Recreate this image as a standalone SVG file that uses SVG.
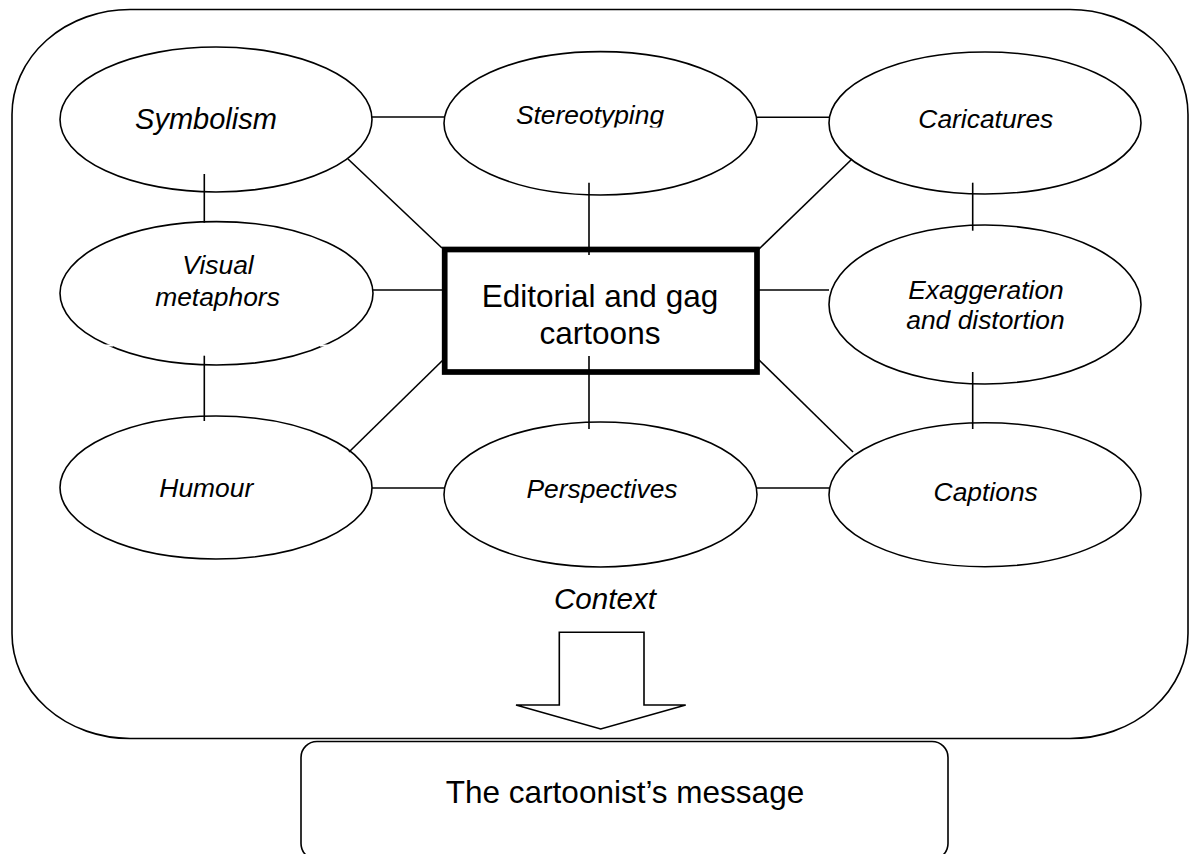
<svg xmlns="http://www.w3.org/2000/svg" width="1189" height="854" viewBox="0 0 1189 854">
<style>
.n{fill:#fff;stroke:#000;stroke-width:1.6}
.c line{stroke:#000;stroke-width:1.6}
.t{font-family:"Liberation Sans",Arial,sans-serif;font-style:italic;font-size:26.4px;text-anchor:middle;fill:#000}
.r{font-family:"Liberation Sans",Arial,sans-serif;font-size:31.5px;text-anchor:middle;fill:#000}
</style>
<defs>
<clipPath id="clipS"><rect x="440" y="60" width="320" height="67.5"/></clipPath>
</defs>
<rect width="1189" height="854" fill="#fff"/>
<g id="context">
<rect x="12" y="9.5" width="1176" height="729" rx="118" ry="105" fill="#fff" stroke="#000" stroke-width="1.6"/>
<text class="t" x="605" y="609.3" style="font-size:29.6px">Context</text>
<polygon points="559.3,632.3 644,632.3 644,705 685.7,705 600.7,729 516,705 559.3,705" fill="#fff" stroke="#000" stroke-width="1.6"/>
</g>
<g id="message">
<rect x="301" y="741.5" width="647" height="118" rx="16" ry="16" fill="#fff" stroke="#000" stroke-width="1.6"/>
<text class="r" x="625" y="803.3">The cartoonist’s message</text>
</g>
<g id="symbolism">
<ellipse class="n" cx="216" cy="119.5" rx="156" ry="72.5"/>
<text class="t" x="206" y="129" style="font-size:29px">Symbolism</text>
</g>
<g id="visual">
<ellipse class="n" cx="216.5" cy="293.3" rx="156.5" ry="71.7"/>
<line x1="104" y1="345.5" x2="113" y2="345.5" stroke="#fff" stroke-width="2"/>
<line x1="320" y1="345.5" x2="329" y2="345.5" stroke="#fff" stroke-width="2"/>
<text class="t" x="218" y="274">Visual</text>
<text class="t" x="217.5" y="306">metaphors</text>
</g>
<g id="humour">
<ellipse class="n" cx="216" cy="487.5" rx="156" ry="71.5"/>
<text class="t" x="206.3" y="497">Humour</text>
</g>
<g id="stereotyping">
<ellipse class="n" cx="600.5" cy="123.3" rx="156.5" ry="71.7"/>
<text class="t" x="590" y="124.3" clip-path="url(#clipS)">Stereotyping</text>
</g>
<g id="perspectives">
<ellipse class="n" cx="600.5" cy="494.5" rx="156.5" ry="72.5"/>
<text class="t" x="602" y="498">Perspectives</text>
</g>
<g id="caricatures">
<ellipse class="n" cx="985" cy="123" rx="156" ry="71"/>
<text class="t" x="985.8" y="128">Caricatures</text>
</g>
<g id="exaggeration">
<ellipse class="n" cx="985" cy="304.5" rx="156" ry="79.5"/>
<text class="t" x="986" y="299">Exaggeration</text>
<text class="t" x="985.5" y="329">and distortion</text>
</g>
<g id="captions">
<ellipse class="n" cx="985" cy="494.7" rx="156" ry="72"/>
<text class="t" x="985.7" y="501">Captions</text>
</g>
<g id="cartoons">
<rect x="444.7" y="249.5" width="312.3" height="122.5" fill="#fff" stroke="#000" stroke-width="5.7"/>
<text class="r" x="600" y="307">Editorial and gag</text>
<text class="r" x="600" y="344">cartoons</text>
</g>
<g id="connectors" class="c">
<line x1="372" y1="117" x2="444" y2="117"/>
<line x1="757" y1="117.3" x2="829" y2="117.3"/>
<line x1="204.3" y1="174" x2="204.3" y2="222.7"/>
<line x1="204.3" y1="355.7" x2="204.3" y2="421"/>
<line x1="972.7" y1="182.7" x2="972.7" y2="230.7"/>
<line x1="972.7" y1="372" x2="972.7" y2="429"/>
<line x1="348" y1="159" x2="442" y2="248"/>
<line x1="589" y1="182.7" x2="589" y2="255"/>
<line x1="852" y1="159" x2="758" y2="250"/>
<line x1="372" y1="290" x2="443" y2="290"/>
<line x1="757" y1="290" x2="829" y2="290"/>
<line x1="349" y1="452" x2="443" y2="360"/>
<line x1="589" y1="356" x2="589" y2="429"/>
<line x1="758" y1="359" x2="853" y2="452"/>
<line x1="372" y1="488" x2="445" y2="488"/>
<line x1="757" y1="488" x2="829" y2="488"/>
</g>
</svg>
